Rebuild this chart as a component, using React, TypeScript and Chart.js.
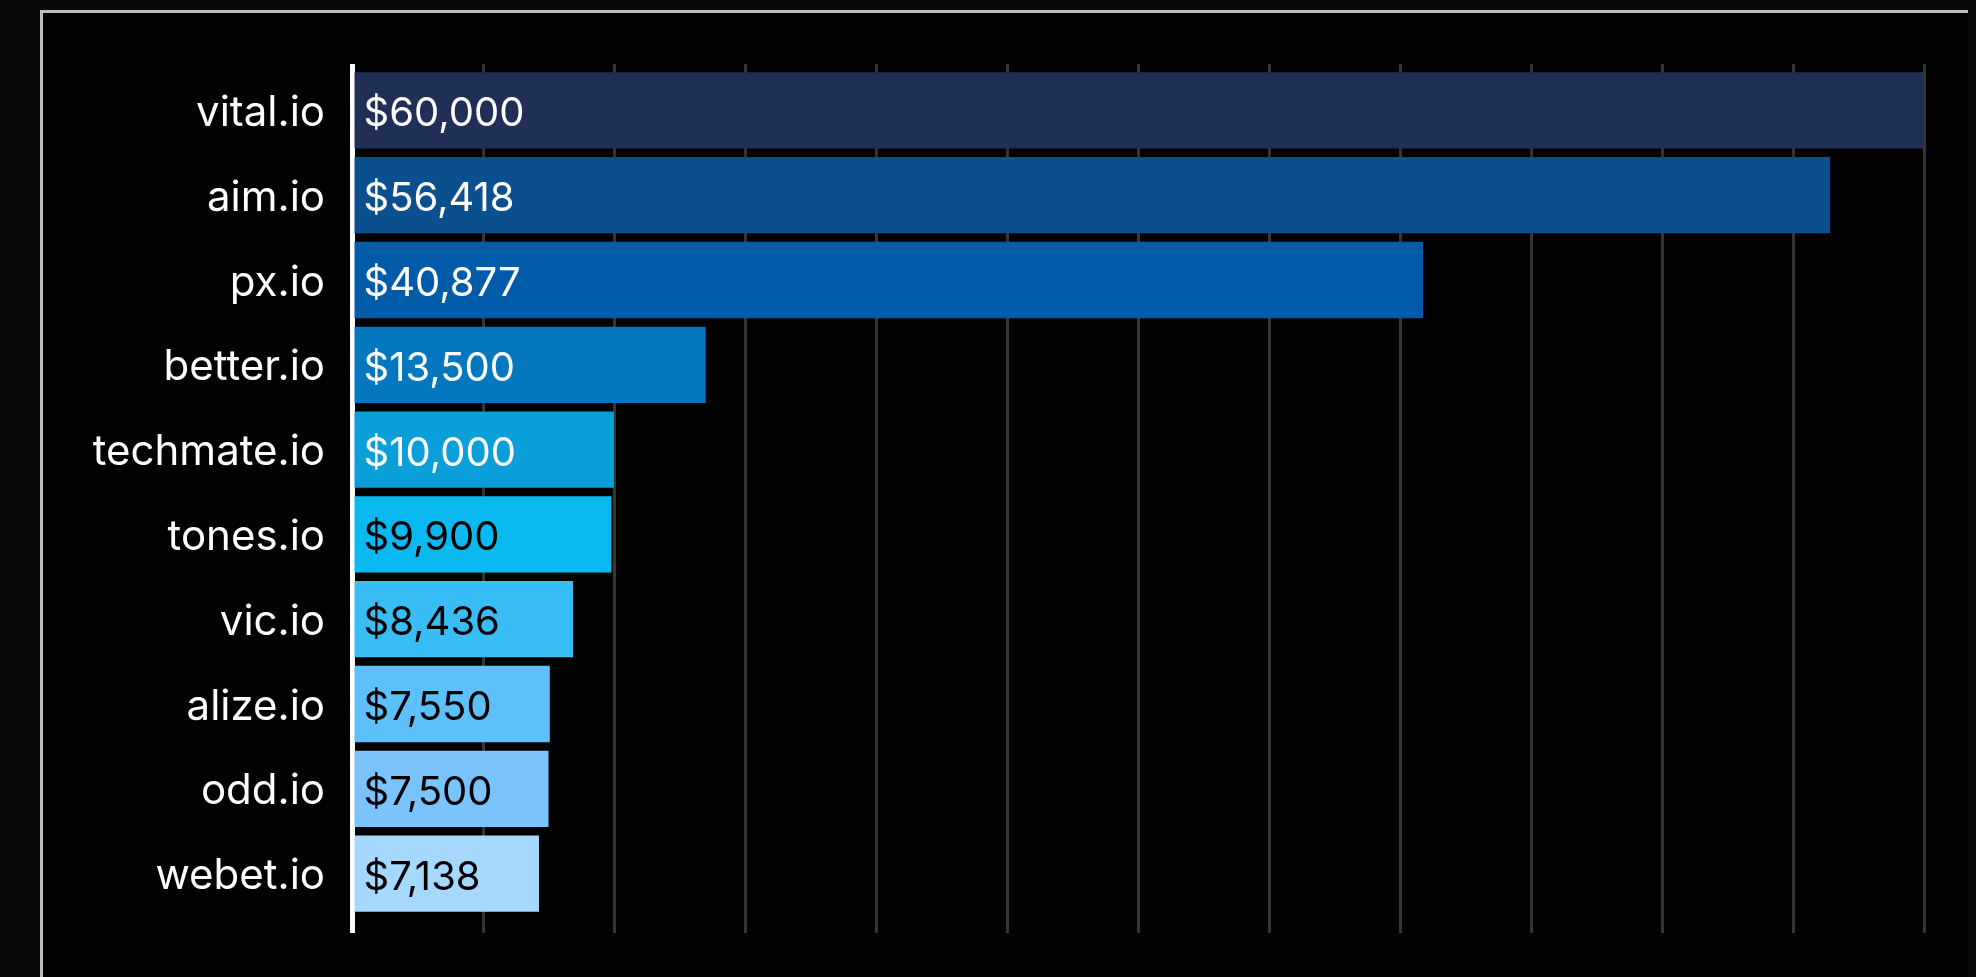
import React, { useEffect, useRef } from "react";
import { Chart, registerables } from "chart.js";

Chart.register(...registerables);

const categories = ["vital.io", "aim.io", "px.io", "better.io", "techmate.io", "tones.io", "vic.io", "alize.io", "odd.io", "webet.io"];
const values = [60000, 56418, 40877, 13500, 10000, 9900, 8436, 7550, 7500, 7138];
const barColors = ["#1f2f55", "#0b4f8e", "#015ba9", "#0477be", "#0a9fd8", "#0ab9ef", "#38bdf4", "#5ec0fb", "#7bc3fd", "#a6d7fd"];
const labelColors = ["#ffffff", "#ffffff", "#ffffff", "#ffffff", "#ffffff", "#000000", "#000000", "#000000", "#000000", "#000000"];
const axisMin = 0;
const axisMax = 60000;
const axisStep = 5000;

const FONT = "Inter, 'Noto Sans', sans-serif";

const valueLabelPlugin = {
  id: "valueLabels",
  afterDatasetsDraw(chart: any) {
    const ctx = chart.ctx;
    const meta = chart.getDatasetMeta(0);
    ctx.save();
    ctx.font = `400 40px ${FONT}`;
    ctx.textAlign = "left";
    ctx.textBaseline = "middle";
    meta.data.forEach((bar: any, i: number) => {
      const v = values[i];
      ctx.fillStyle = labelColors[i];
      ctx.fillText("$" + v.toLocaleString("en-US"), bar.base + 9, bar.y + 4);
    });
    ctx.restore();
  },
};

export default function App() {
  const ref = useRef<HTMLCanvasElement | null>(null);

  useEffect(() => {
    document.body.style.background = "#0a0a0a";
    document.body.style.overflow = "hidden";
    const canvas = ref.current;
    if (!canvas) return;
    const gridColor = (c: any) => (c.tick && c.tick.value === 0 ? "#ffffff" : "#353535");
    const gridWidth = (c: any) => (c.tick && c.tick.value === 0 ? 5 : 3);
    const chart = new Chart(canvas, {
      type: "bar",
      data: {
        labels: categories,
        datasets: [
          {
            data: values,
            backgroundColor: barColors,
            borderWidth: 0,
            categoryPercentage: 0.9,
            barPercentage: 1.0,
          },
        ],
      },
      plugins: [valueLabelPlugin],
      options: {
        indexAxis: "y",
        animation: false,
        responsive: false,
        devicePixelRatio: 1,
        layout: { padding: { left: 0, right: 52, top: 51, bottom: 44 } },
        plugins: { legend: { display: false }, tooltip: { enabled: false } },
        scales: {
          x: {
            position: "bottom",
            min: axisMin,
            max: axisMax,
            ticks: { display: false, stepSize: axisStep },
            grid: { color: gridColor, lineWidth: gridWidth, drawTicks: true, tickLength: 17 },
            border: { display: false },
          },
          x2: {
            position: "top",
            axis: "x",
            type: "linear",
            min: axisMin,
            max: axisMax,
            ticks: { display: false, stepSize: axisStep },
            grid: { color: gridColor, lineWidth: gridWidth, drawTicks: true, tickLength: 4, drawOnChartArea: false },
            border: { display: false },
          },
          y: {
            grid: { display: false, drawTicks: false },
            border: { display: false },
            ticks: {
              color: "#ffffff",
              padding: 27,
              labelOffset: 3,
              font: { family: FONT, size: 42, weight: 400 },
            },
            afterFit: (scale: any) => {
              scale.width = 309;
            },
          },
        },
      } as any,
    });
    return () => chart.destroy();
  }, []);

  return (
    <div
      style={{
        marginLeft: 32,
        marginTop: 2,
        width: "calc(100vw - 40px)",
        height: "calc(100vh - 10px)",
        boxSizing: "border-box",
        borderLeft: "3px solid #bdbdbd",
        borderTop: "3px solid #bdbdbd",
        background: "#020202",
        overflow: "hidden",
      }}
    >
      <canvas ref={ref} width={1933} height={964} style={{ display: "block", width: 1933, height: 964 }} />
    </div>
  );
}
